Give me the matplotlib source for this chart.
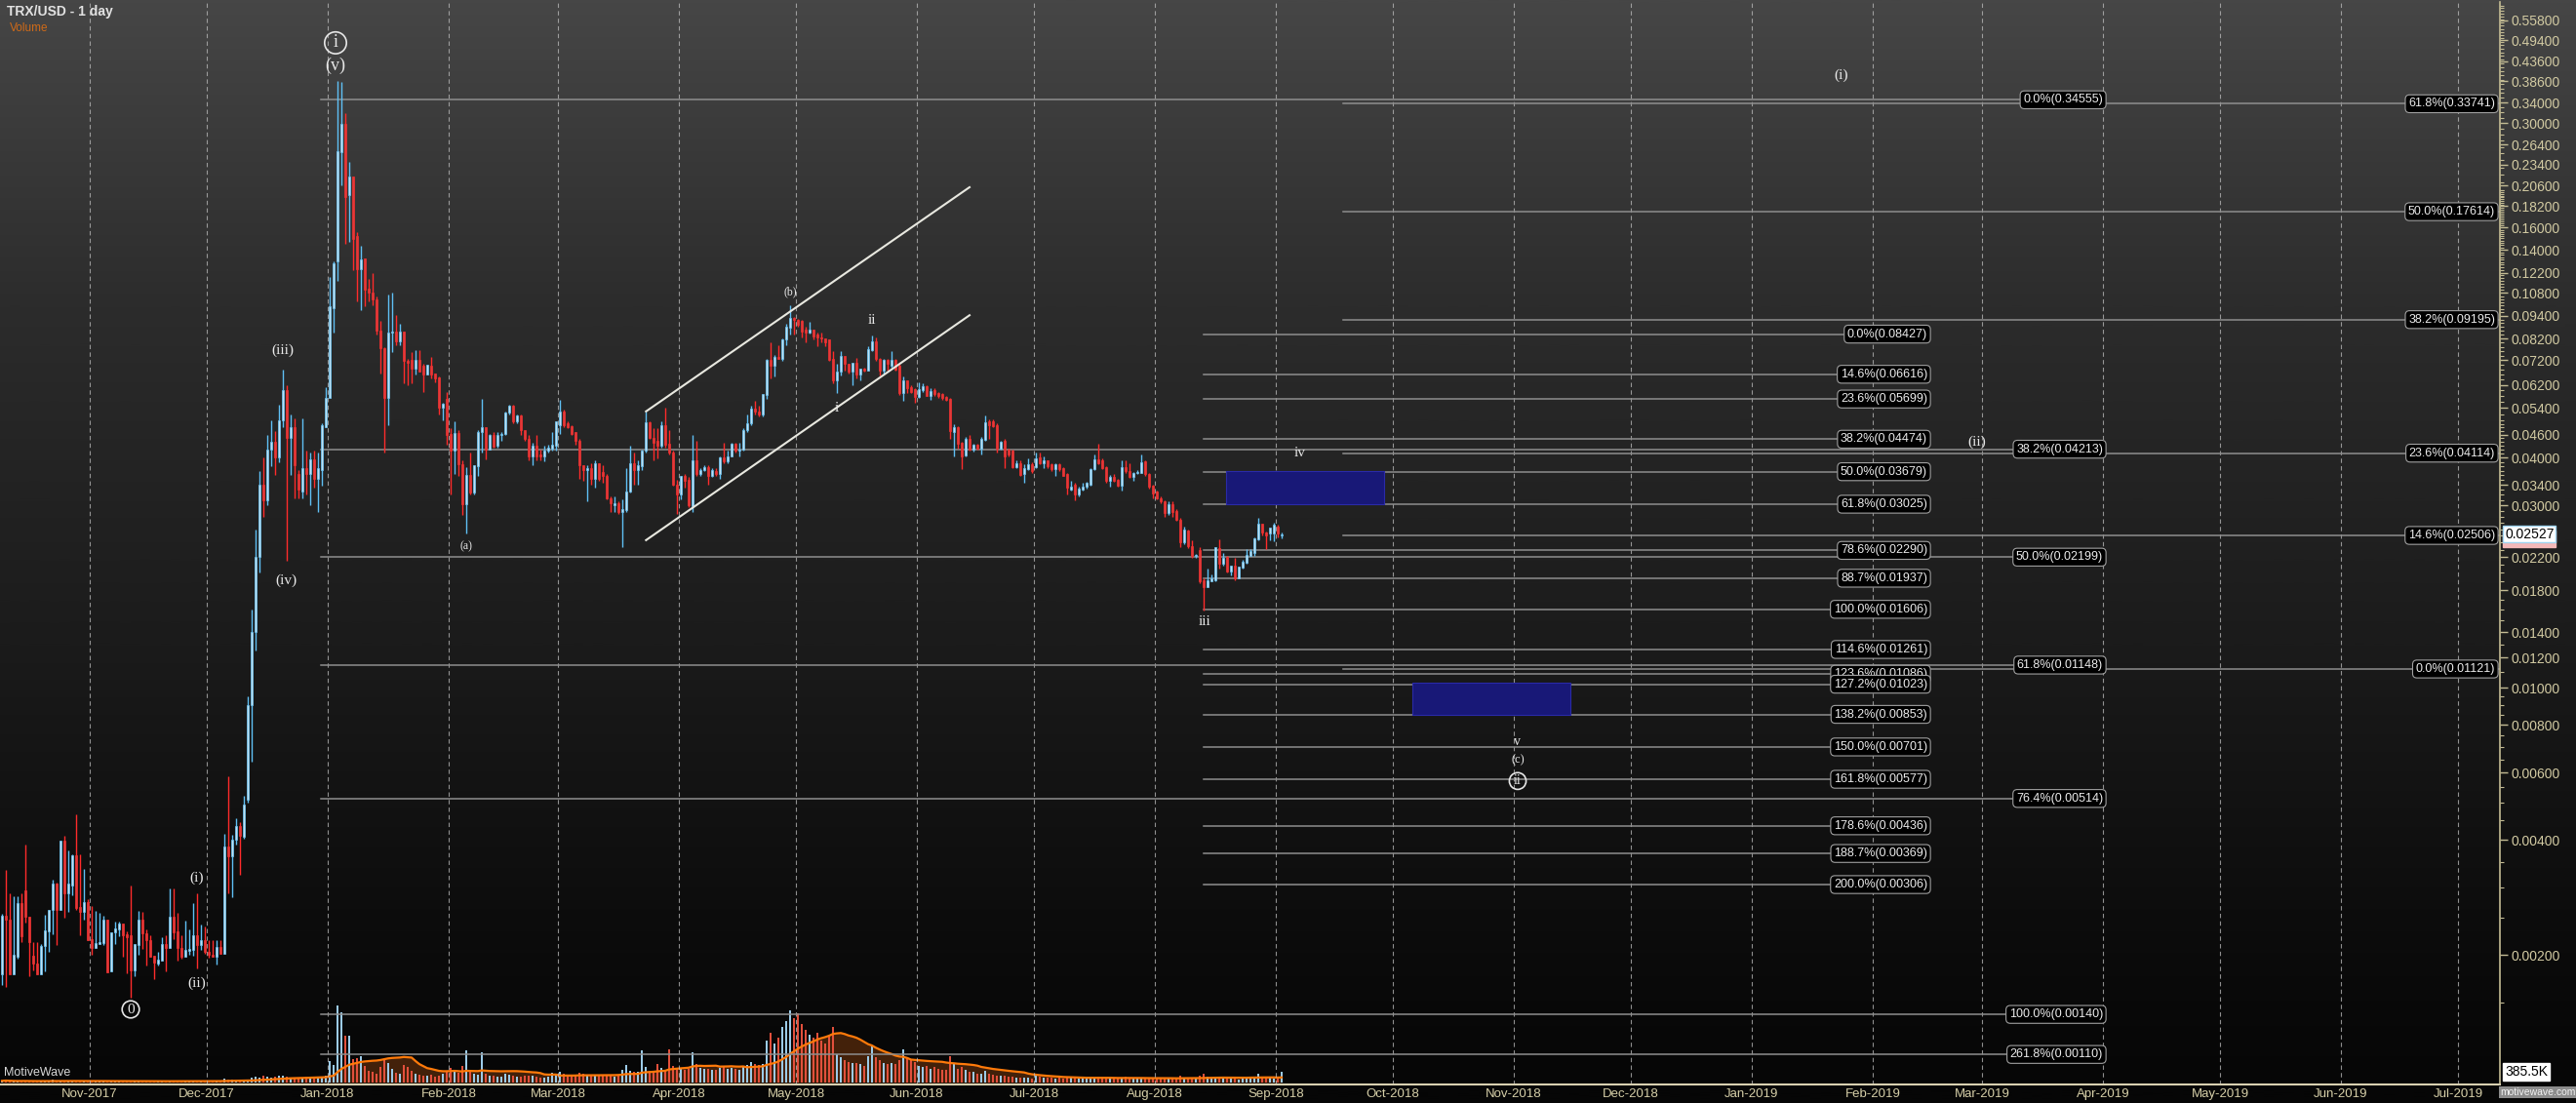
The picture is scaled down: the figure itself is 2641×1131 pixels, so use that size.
import numpy as np
import pandas as pd
import matplotlib
matplotlib.use('Agg')
import matplotlib.pyplot as plt
import matplotlib.dates as mdates
from matplotlib.colors import LinearSegmentedColormap
from matplotlib.ticker import FixedLocator, NullFormatter, FuncFormatter

# daily candles (open, high, low, close), one list per month
first_day = '2017-10-09'
ohlc_2017_10 = [
    (.00178, .00257, .00167, .00254), (.00254, .00334, .00165, .00248), (.00248, .00291, .00178, .00178),
    (.00178, .00286, .00178, .00200), (.00198, .00286, .00196, .00273), (.00273, .00290, .00216, .00224),
    (.00295, .00389, .00243, .00252), (.00252, .00252, .00176, .00216), (.00199, .00216, .00183, .00190),
    (.00190, .00216, .00178, .00178), (.00178, .00214, .00178, .00212), (.00211, .00255, .00181, .00232),
    (.00231, .00262, .00204, .00262), (.00262, .00315, .00227, .00307), (.00307, .00309, .00213, .00263),
    (.00263, .00398, .00263, .00398), (.00398, .00411, .00250, .00291), (.00291, .00375, .00259, .00307),
    (.00305, .00367, .00287, .00366), (.00366, .00468, .00262, .00266), (.00268, .00367, .00226, .00259),
    (.00259, .00336, .00248, .00276), (.00276, .00281, .00219, .00219),
]
ohlc_2017_11 = [
    (.00220, .00269, .00200, .00209), (.00209, .00261, .00209, .00215), (.00214, .00258, .00214, .00216),
    (.00215, .00254, .00213, .00247), (.00247, .00247, .00180, .00180), (.00181, .00230, .00181, .00230),
    (.00229, .00245, .00214, .00235), (.00234, .00245, .00224, .00242), (.00242, .00242, .00198, .00225),
    (.00227, .00231, .00179, .00223), (.00225, .00305, .00155, .00183), (.00183, .00214, .00176, .00214),
    (.00213, .00261, .00201, .00248), (.00248, .00260, .00208, .00228), (.00228, .00233, .00188, .00219),
    (.00219, .00225, .00198, .00198), (.00199, .00199, .00173, .00191), (.00190, .00204, .00188, .00195),
    (.00194, .00223, .00194, .00214), (.00214, .00225, .00181, .00209), (.00209, .00299, .00209, .00252),
    (.00252, .00299, .00220, .00230), (.00231, .00258, .00193, .00209), (.00209, .00225, .00196, .00198),
    (.00198, .00246, .00198, .00206), (.00205, .00234, .00200, .00208), (.00207, .00273, .00199, .00225),
    (.00225, .00291, .00185, .00213), (.00213, .00241, .00207, .00219), (.00219, .00238, .00202, .00204),
]
ohlc_2017_12 = [
    (.00204, .00219, .00197, .00200), (.00201, .00219, .00198, .00198), (.00198, .00219, .00189, .00210),
    (.00210, .00219, .00202, .00202), (.00202, .00415, .00202, .00384), (.00384, .00587, .00290, .00362),
    (.00362, .00412, .00283, .00401), (.00401, .00457, .00389, .00435), (.00435, .00445, .00324, .00410),
    (.00408, .00523, .00404, .00494), (.00509, .0095, .00500, .0090), (.0090, .0160, .0064, .0140),
    (.0140, .0260, .0125, .0220), (.0220, .0370, .0200, .0340), (.0340, .0400, .0280, .0310),
    (.0310, .0460, .0300, .0420), (.0420, .0500, .0380, .0440), (.0440, .0470, .0360, .0400),
    (.0400, .0550, .0390, .0500), (.0500, .0680, .0480, .0600), (.0600, .0620, .0215, .0450),
    (.0450, .0520, .0360, .0482), (.0482, .0507, .0314, .0383), (.0363, .0371, .0314, .0330),
    (.0327, .0507, .0314, .0375), (.0375, .0417, .0321, .0363), (.0363, .0413, .0301, .0397),
    (.0397, .0417, .0334, .0352), (.0352, .0413, .0289, .0375), (.0371, .0492, .0338, .0487),
    (.0482, .0613, .0482, .0575),
]
ohlc_2018_01 = [
    (.0575, .1187, .0575, .0995), (.0985, .1305, .0849, .1291), (.1305, .388, .1163, .2535),
    (.2525, .385, .2069, .2988), (.2988, .318, .145, .1923), (.1944, .2373, .1465, .2181),
    (.2181, .2181, .124, .1496), (.1521, .1554, .1026, .1243), (.1243, .1434, .0975, .1324),
    (.1332, .1332, .0995, .1103), (.1108, .1175, .1026, .1080), (.1080, .1217, .1005, .1036),
    (.1040, .1058, .0840, .0862), (.0862, .0914, .0666, .0776), (.0776, .0780, .0413, .0575),
    (.0575, .1069, .0487, .0853), (.0849, .1080, .0756, .0857), (.0855, .0943, .0790, .0806),
    (.0806, .0896, .0790, .0855), (.0855, .0858, .0625, .0718), (.0718, .0726, .0620, .0711),
    (.0723, .0756, .0625, .0684), (.0684, .0764, .0659, .0723), (.0723, .0764, .0673, .0673),
    (.0696, .0704, .0594, .0659), (.0659, .0699, .0659, .0699), (.0696, .0733, .0645, .0659),
    (.0665, .0666, .0632, .0645), (.0648, .0652, .0518, .0540), (.0540, .0558, .0502, .0555),
    (.0569, .0596, .0434, .0458),
]
ohlc_2018_02 = [
    (.0462, .0477, .0321, .0417), (.0417, .0497, .0363, .0464), (.0464, .0472, .0359, .0384),
    (.0384, .0395, .0283, .0303), (.0303, .0378, .0253, .0361), (.0361, .0413, .0321, .0324),
    (.0324, .0383, .0321, .0383), (.0380, .0472, .0359, .0467), (.0467, .0569, .0413, .0482),
    (.0482, .0482, .0397, .0421), (.0420, .0462, .0420, .0458), (.0460, .0467, .0426, .0428),
    (.0430, .0467, .0426, .0458), (.0458, .0467, .0443, .0462), (.0462, .0529, .0458, .0526),
    (.0524, .0552, .0518, .0546), (.0546, .0552, .0492, .0497), (.0497, .0518, .0492, .0516),
    (.0516, .0518, .0458, .0472), (.0472, .0472, .0443, .0448), (.0448, .0458, .0395, .0404),
    (.0404, .0439, .0383, .0430), (.0430, .0458, .0395, .0404), (.0407, .0421, .0395, .0404),
    (.0404, .0430, .0391, .0417), (.0417, .0434, .0414, .0426), (.0423, .0467, .0417, .0434),
    (.0430, .0497, .0417, .0497),
]
ohlc_2018_03 = [
    (.0487, .0567, .0462, .0529), (.0529, .0535, .0482, .0487), (.0492, .0497, .0477, .0482),
    (.0483, .0487, .0458, .0462), (.0467, .0467, .0434, .0443), (.0443, .0448, .0352, .0383),
    (.0383, .0383, .0348, .0371), (.0371, .0383, .0308, .0375), (.0375, .0387, .0341, .0352),
    (.0352, .0395, .0334, .0387), (.0387, .0387, .0348, .0352), (.0367, .0383, .0345, .0359),
    (.0359, .0363, .0311, .0314), (.0314, .0317, .0289, .0304), (.0301, .0317, .0289, .0304),
    (.0304, .0308, .0286, .0289), (.0289, .0311, .0234, .0293), (.0292, .0375, .0289, .0327),
    (.0327, .0430, .0324, .0387), (.0387, .0413, .0341, .0371), (.0371, .0395, .0341, .0383),
    (.0380, .0421, .0371, .0419), (.0417, .0529, .0413, .0494), (.0494, .0497, .0448, .0452),
    (.0452, .0477, .0395, .0439), (.0443, .0477, .0399, .0430), (.0430, .0497, .0426, .0487),
    (.0487, .0540, .0426, .0434), (.0436, .0472, .0407, .0413), (.0414, .0417, .0338, .0341),
    (.0341, .0351, .0286, .0321),
]
ohlc_2018_04 = [
    (.0321, .0358, .0311, .0358), (.0359, .0363, .0334, .0348), (.0351, .0356, .0297, .0301),
    (.0299, .0458, .0289, .0393), (.0393, .0443, .0359, .0363), (.0363, .0375, .0359, .0371),
    (.0371, .0383, .0369, .0378), (.0378, .0383, .0341, .0359), (.0359, .0375, .0356, .0371),
    (.0369, .0375, .0359, .0363), (.0363, .0404, .0352, .0401), (.0401, .0439, .0387, .0391),
    (.0391, .0417, .0387, .0404), (.0404, .0439, .0404, .0436), (.0436, .0439, .0414, .0417),
    (.0417, .0439, .0404, .0421), (.0421, .0477, .0417, .0474), (.0472, .0518, .0467, .0492),
    (.0492, .0546, .0487, .0537), (.0537, .0563, .0518, .0529), (.0529, .0546, .0513, .0518),
    (.0518, .0587, .0513, .0587), (.0583, .0726, .0569, .0721), (.0721, .0801, .0645, .0696),
    (.0696, .0741, .0652, .0736), (.0736, .0790, .0726, .0726), (.0726, .0823, .0718, .0818),
    (.0815, .0896, .0790, .0881), (.0877, .1005, .0840, .0930), (.0930, .0933, .0840, .0918),
]
ohlc_2018_05 = [
    (.0918, .0926, .0882, .0890), (.0912, .0918, .0824, .0857), (.0868, .0882, .0800, .0850),
    (.0850, .0908, .0845, .0868), (.0868, .0868, .0816, .0829), (.0840, .0850, .0784, .0824),
    (.0824, .0852, .0800, .0820), (.0820, .0820, .0784, .0800), (.0816, .0816, .0718, .0722),
    (.0725, .0761, .0626, .0638), (.0638, .0705, .0590, .0671), (.0671, .0761, .0658, .0739),
    (.0739, .0739, .0677, .0703), (.0703, .0703, .0664, .0671), (.0671, .0707, .0620, .0707),
    (.0707, .0729, .0645, .0660), (.0660, .0685, .0638, .0685), (.0685, .0689, .0673, .0677),
    (.0677, .0784, .0677, .0769), (.0765, .0838, .0761, .0808), (.0808, .0824, .0718, .0725),
    (.0725, .0729, .0658, .0677), (.0677, .0725, .0664, .0720), (.0720, .0725, .0677, .0703),
    (.0696, .0761, .0689, .0720), (.0720, .0725, .0677, .0682), (.0696, .0703, .0585, .0590),
    (.0590, .0654, .0563, .0638), (.0638, .0638, .0590, .0608), (.0611, .0620, .0590, .0596),
    (.0604, .0608, .0557, .0577),
]
ohlc_2018_06 = [
    (.0577, .0632, .0573, .0604), (.0602, .0626, .0596, .0616), (.0616, .0620, .0579, .0581),
    (.0581, .0608, .0566, .0599), (.0602, .0608, .0579, .0588), (.0590, .0596, .0573, .0581),
    (.0588, .0590, .0568, .0573), (.0576, .0579, .0563, .0568), (.0570, .0573, .0449, .0469),
    (.0466, .0490, .0403, .0480), (.0480, .0485, .0424, .0436), (.0438, .0440, .0373, .0403),
    (.0406, .0453, .0403, .0449), (.0449, .0458, .0417, .0420), (.0420, .0436, .0415, .0432),
    (.0432, .0436, .0420, .0424), (.0424, .0453, .0407, .0449), (.0447, .0515, .0444, .0495),
    (.0497, .0505, .0449, .0488), (.0497, .0503, .0480, .0485), (.0488, .0492, .0412, .0424),
    (.0424, .0444, .0420, .0440), (.0444, .0449, .0377, .0403), (.0420, .0424, .0403, .0407),
    (.0417, .0420, .0377, .0379), (.0379, .0393, .0375, .0387), (.0387, .0395, .0359, .0361),
    (.0362, .0384, .0344, .0375), (.0373, .0399, .0371, .0384), (.0384, .0390, .0366, .0369),
]
ohlc_2018_07 = [
    (.0378, .0412, .0377, .0399), (.0401, .0412, .0384, .0387), (.0387, .0403, .0377, .0393),
    (.0393, .0395, .0377, .0380), (.0384, .0387, .0369, .0373), (.0373, .0386, .0359, .0384),
    (.0384, .0387, .0369, .0373), (.0375, .0378, .0358, .0359), (.0362, .0366, .0320, .0335),
    (.0331, .0349, .0329, .0336), (.0341, .0344, .0310, .0320), (.0320, .0336, .0317, .0333),
    (.0331, .0344, .0329, .0337), (.0336, .0346, .0333, .0344), (.0341, .0377, .0339, .0374),
    (.0373, .0407, .0371, .0397), (.0397, .0436, .0384, .0387), (.0393, .0399, .0373, .0377),
    (.0378, .0381, .0344, .0348), (.0349, .0360, .0336, .0357), (.0357, .0362, .0346, .0349),
    (.0351, .0353, .0336, .0339), (.0339, .0395, .0329, .0378), (.0378, .0393, .0366, .0369),
    (.0369, .0387, .0354, .0356), (.0357, .0368, .0349, .0366), (.0364, .0371, .0362, .0368),
    (.0366, .0407, .0366, .0390), (.0391, .0393, .0359, .0362), (.0362, .0364, .0333, .0336),
    (.0339, .0341, .0314, .0323),
]
ohlc_2018_08 = [
    (.0326, .0329, .0312, .0314), (.0314, .0317, .0304, .0307), (.0307, .0310, .0281, .0287),
    (.0287, .0307, .0283, .0303), (.0303, .0307, .0281, .0288), (.0290, .0293, .0273, .0276),
    (.0276, .0279, .0233, .0240), (.0240, .0265, .0238, .0260), (.0258, .0260, .0232, .0235),
    (.0235, .0243, .0219, .0221), (.0222, .0224, .0219, .0222), (.0229, .0233, .0188, .0190),
    (.0191, .0193, .0159, .0184), (.0184, .0205, .0184, .0191), (.0190, .0198, .0190, .0193),
    (.0191, .0234, .0190, .0233), (.0232, .0245, .0205, .0212), (.0212, .0226, .0209, .0219),
    (.0220, .0222, .0201, .0202), (.0202, .0209, .0197, .0209), (.0209, .0219, .0191, .0193),
    (.0193, .0208, .0193, .0208), (.0207, .0217, .0205, .0214), (.0213, .0231, .0212, .0223),
    (.0222, .0231, .0221, .0228), (.0225, .0248, .0222, .0246), (.0245, .0279, .0243, .0269),
    (.0269, .0269, .0250, .0255), (.0255, .0257, .0231, .0250), (.0253, .0263, .0243, .0262),
    (.0254, .0270, .0242, .0268),
]
ohlc_2018_09 = [(.0265, .0268, .0247, .0254), (.0251, .0255, .0246, .02527)]

# daily volume, thousands
vol_2017_10 = [60, 80, 50, 40, 45, 70, 50, 40, 35, 45, 60, 75, 55, 90, 60, 50, 45, 40, 70, 55, 50, 45, 55]
vol_2017_11 = [50, 40, 35, 45, 60, 45, 40, 35, 50, 75, 45, 40, 35, 40, 45, 60, 50, 45, 40, 70,
               55, 45, 40, 50, 60, 55, 45, 50, 60, 55]
vol_2017_12 = [50, 45, 50, 55, 150, 120, 90, 80, 70, 90, 120, 160, 200, 175, 230, 200, 175, 200, 260, 235,
               210, 180, 150, 175, 160, 200, 140, 175, 190, 180, 240]
vol_2018_01 = [770, 640, 2765, 2520, 1690, 1690, 840, 875, 955, 600, 420, 380, 330, 560, 800, 700, 500, 350,
               330, 620, 560, 420, 300, 280, 260, 250, 280, 200, 240, 330, 430]
vol_2018_02 = [520, 450, 350, 600, 1150, 380, 300, 280, 1100, 320, 250, 230, 220, 200, 300, 280, 250, 220,
               200, 240, 260, 230, 200, 180, 190, 220, 350, 300]
vol_2018_03 = [400, 300, 250, 230, 240, 350, 300, 260, 250, 280, 240, 230, 270, 250, 220, 280, 450, 620,
               420, 380, 400, 1150, 550, 420, 400, 680, 520, 450, 1200, 580, 500]
vol_2018_04 = [480, 460, 500, 1100, 680, 530, 480, 500, 460, 440, 520, 580, 500, 520, 480, 460, 580, 620,
               720, 680, 620, 680, 1500, 1800, 1400, 1600, 2000, 2200, 2600, 2300]
vol_2018_05 = [2500, 2100, 1900, 1700, 1600, 1800, 1500, 1400, 1700, 2000, 1000, 900, 800, 750, 700, 700,
               650, 600, 950, 1300, 900, 800, 700, 650, 700, 650, 800, 1200, 900, 800, 750]
vol_2018_06 = [600, 550, 600, 500, 550, 500, 450, 450, 950, 700, 500, 550, 450, 400, 380, 330, 300, 420,
               300, 280, 250, 230, 250, 210, 200, 190, 180, 170, 160, 150]
vol_2018_07 = [230, 200, 180, 170, 160, 150, 160, 150, 200, 170, 160, 150, 140, 150, 170, 180, 200, 170,
               160, 150, 140, 150, 160, 200, 170, 150, 140, 130, 140, 150, 160]
vol_2018_08 = [150, 140, 160, 140, 130, 140, 230, 180, 160, 150, 130, 250, 300, 200, 180, 220, 200, 160,
               150, 140, 130, 120, 130, 150, 160, 220, 300, 200, 180, 160, 150]
vol_2018_09 = [140, 385.5]

# fibonacci levels: (percent, price)
fib_wave_i = [('61.8%', 0.33741), ('50.0%', 0.17614), ('38.2%', 0.09195), ('23.6%', 0.04114),
              ('14.6%', 0.02506), ('0.0%', 0.01121)]
fib_wave_ii = [('0.0%', 0.34555), ('38.2%', 0.04213), ('50.0%', 0.02199), ('61.8%', 0.01148),
               ('76.4%', 0.00514), ('100.0%', 0.00140), ('261.8%', 0.00110)]
fib_wave_iii = [('0.0%', 0.08427), ('14.6%', 0.06616), ('23.6%', 0.05699), ('38.2%', 0.04474),
                ('50.0%', 0.03679), ('61.8%', 0.03025), ('78.6%', 0.02290), ('88.7%', 0.01937),
                ('100.0%', 0.01606), ('114.6%', 0.01261), ('123.6%', 0.01086), ('127.2%', 0.01023),
                ('138.2%', 0.00853), ('150.0%', 0.00701), ('161.8%', 0.00577), ('178.6%', 0.00436),
                ('188.7%', 0.00369), ('200.0%', 0.00306)]
fib_spans = {  # line start, label end
    'i': ('2018-09-18 06:00', '2019-07-10 12:00'),
    'ii': ('2017-12-30 06:00', '2019-04-01 00:00'),
    'iii': ('2018-08-13 12:00', '2019-02-15 00:00'),
}

# elliott wave labels: (date, price, text, size, circled)
wave_labels = [
    ('2018-01-03', 0.487, 'i', 13, True), ('2018-01-03', 0.4253, '(v)', 13, False),
    ('2017-12-20 12:00', 0.0766, '(iii)', 11, False), ('2017-12-21 06:00', 0.01914, '(iv)', 11, False),
    ('2017-11-28 12:00', 0.00319, '(i)', 11, False), ('2017-11-28 12:00', 0.00169, '(ii)', 11, False),
    ('2017-11-11 12:00', 0.001443, '0', 11, True),
    ('2018-02-05 12:00', 0.0235, '(a)', 8.5, False), ('2018-04-29 12:00', 0.1089, '(b)', 8.5, False),
    ('2018-05-11 12:00', 0.0541, 'i', 11, False), ('2018-05-20 12:00', 0.0918, 'ii', 11, False),
    ('2018-08-13 18:00', 0.01487, 'iii', 11, False), ('2018-09-07 06:00', 0.0411, 'iv', 11, False),
    ('2018-11-02', 0.00722, 'v', 10, False), ('2018-11-02', 0.00648, '(c)', 9, False),
    ('2018-11-02', 0.00571, 'ii', 10, True),
    ('2019-01-24', 0.4012, '(i)', 11, False), ('2019-02-27 18:00', 0.04405, '(ii)', 11, False),
]

channel_upper = [('2018-03-23 14:00', 0.0529), ('2018-06-14 12:00', 0.2041)]
channel_lower = [('2018-03-23 14:00', 0.02436), ('2018-06-14 12:00', 0.0944)]

target_boxes = [('2018-08-19 06:00', '2018-09-28 18:00', 0.03025, 0.0370),
                ('2018-10-06', '2018-11-15 12:00', 0.00853, 0.0103)]

price_ticks = [0.558, 0.494, 0.436, 0.386, 0.34, 0.30, 0.264, 0.234, 0.206, 0.182, 0.16, 0.14, 0.122,
               0.108, 0.094, 0.082, 0.072, 0.062, 0.054, 0.046, 0.04, 0.034, 0.03, 0.022, 0.018, 0.014,
               0.012, 0.01, 0.008, 0.006, 0.004, 0.002]
last_price = 0.02527
last_volume = '385.5K'

# ---------------------------------------------------------------------------
W, H = 2641, 1131
fig = plt.figure(figsize=(W / 100, H / 100), dpi=100, facecolor='black')

sans = ['Liberation Sans', 'DejaVu Sans']
serif = ['Liberation Serif', 'DejaVu Serif']

# background gradient over the whole picture
bg = fig.add_axes([0, 0, 1, 1], zorder=0)
cmap = LinearSegmentedColormap.from_list('bg', ['#060606', '#1b1b1b', '#2c2c2c', '#464646'])
grad = np.linspace(0, 1, 512)[:, None] ** 1.25
bg.imshow(grad, cmap=cmap, aspect='auto', origin='lower', extent=[0, 1, 0, 1])
bg.axis('off')

ax_left, ax_right = 0.0, 2563 / W
ax_bot, ax_top = (H - 1112) / H, (H - 2) / H
ax = fig.add_axes([ax_left, ax_bot, ax_right - ax_left, ax_top - ax_bot], zorder=2)
ax.set_facecolor('none')
ax.set_yscale('log')

rows = (ohlc_2017_10 + ohlc_2017_11 + ohlc_2017_12 + ohlc_2018_01 + ohlc_2018_02 + ohlc_2018_03 +
        ohlc_2018_04 + ohlc_2018_05 + ohlc_2018_06 + ohlc_2018_07 + ohlc_2018_08 + ohlc_2018_09)
df = pd.DataFrame(rows, columns=['open', 'high', 'low', 'close'])
df['date'] = pd.date_range(first_day, periods=len(df), freq='D')
df['volume'] = (vol_2017_10 + vol_2017_11 + vol_2017_12 + vol_2018_01 + vol_2018_02 + vol_2018_03 +
                vol_2018_04 + vol_2018_05 + vol_2018_06 + vol_2018_07 + vol_2018_08 + vol_2018_09)
x = mdates.date2num(df['date']) + 0.5
up = (df['close'] >= df['open']).values

xmin = mdates.date2num(pd.Timestamp('2017-10-09'))
xmax = mdates.date2num(pd.Timestamp('2019-07-11 18:00'))
ymin, ymax = 0.000918, 0.623

# month grid
months = pd.date_range('2017-11-01', '2019-07-01', freq='MS')
for m in months:
    ax.axvline(mdates.date2num(m), color='#bdbdbd', lw=0.8, ls=(0, (4, 3)), alpha=0.75, zorder=1)

# candles
body_lo = np.minimum(df['open'], df['close']).values
body_hi = np.maximum(df['open'], df['close']).values
body_hi = np.maximum(body_hi, body_lo * 1.006)
ax.vlines(x[up], df['low'][up], df['high'][up], color='#5fc0f5', lw=1.0, zorder=4)
ax.vlines(x[~up], df['low'][~up], df['high'][~up], color='#ff2b2b', lw=1.0, zorder=4)
ax.bar(x[up], body_hi[up] - body_lo[up], bottom=body_lo[up], width=0.72,
       color='#bfe2f5', edgecolor='#6cc4f2', lw=0.5, zorder=5)
ax.bar(x[~up], body_hi[~up] - body_lo[~up], bottom=body_lo[~up], width=0.72,
       color='#e33a3a', edgecolor='#f23030', lw=0.5, zorder=5)

# channel
for pts in (channel_upper, channel_lower):
    ax.plot([mdates.date2num(pd.Timestamp(d)) for d, _ in pts], [p for _, p in pts],
            color='#e8e8e0', lw=1.5, zorder=6)

# target boxes
for d0, d1, p0, p1 in target_boxes:
    t0, t1 = mdates.date2num(pd.Timestamp(d0)), mdates.date2num(pd.Timestamp(d1))
    ax.fill_between([t0, t1], p0, p1, color='#181877', edgecolor='#2a2aa8', lw=0.8, zorder=3)


# fibonacci lines and labels
def fib_group(levels, span, to_edge=False):
    t0 = mdates.date2num(pd.Timestamp(span[0]))
    t1 = mdates.date2num(pd.Timestamp(span[1]))
    for pct, price in levels:
        end = xmax if to_edge else t1
        ax.plot([t0, end], [price, price], color='#8e8e8e', lw=1.1, zorder=2)
        ax.text(t1, price, f'{pct}({price:.5f})', ha='right', va='center', fontsize=9,
                family=sans, color='#ececec', zorder=8,
                bbox=dict(boxstyle='round,pad=0.25,rounding_size=0.35', fc='black', ec='#a0a0a0', lw=0.8))


fib_group(fib_wave_i, fib_spans['i'], to_edge=True)
fib_group(fib_wave_ii, fib_spans['ii'])
fib_group(fib_wave_iii, fib_spans['iii'])

# wave labels
for d, p, txt, size, circled in wave_labels:
    kw = {}
    if circled:
        kw['bbox'] = dict(boxstyle='circle,pad=0.15', fc='none', ec='#e6e6e6', lw=1.2)
    ax.text(mdates.date2num(pd.Timestamp(d)), p, txt, ha='center', va='center', fontsize=size,
            family=serif, color='#e8e8e8', zorder=9, **kw)

ax.set_xlim(xmin, xmax)
ax.set_ylim(ymin, ymax)

# axes styling
for s in ('top', 'left'):
    ax.spines[s].set_visible(False)
ax.spines['right'].set_color('#c4bc94')
ax.spines['right'].set_linewidth(1.2)
ax.spines['bottom'].set_color('#d8d0b0')
ax.spines['bottom'].set_linewidth(1.5)

ax.yaxis.tick_right()
ax.yaxis.set_major_locator(FixedLocator(price_ticks))
ax.yaxis.set_major_formatter(FuncFormatter(lambda v, _: f'{v:.5f}'))
minor = np.concatenate([np.arange(0.0015, 0.01, 0.0005), np.arange(0.01, 0.05, 0.001),
                        np.arange(0.05, 0.2, 0.002), np.arange(0.2, 0.62, 0.01)])
ax.yaxis.set_minor_locator(FixedLocator(minor))
ax.yaxis.set_minor_formatter(NullFormatter())
ax.tick_params(axis='y', which='major', length=6, width=1, color='#c4bc94', pad=2,
               labelcolor='#d3cba3', labelsize=10)
ax.tick_params(axis='y', which='minor', length=3, width=0.8, color='#c4bc94')
for lab in ax.get_yticklabels():
    lab.set_family(sans)

ax.xaxis.set_major_locator(FixedLocator(mdates.date2num(months)))
ax.xaxis.set_major_formatter(mdates.DateFormatter('%b-%Y'))
ax.tick_params(axis='x', length=0, pad=3, labelcolor='#d6cfa8', labelsize=9.5)
for lab in ax.get_xticklabels():
    lab.set_family(sans)

# current price tags
ax.text(1.002, 0.02455, '0.02416', transform=ax.get_yaxis_transform(), ha='left', va='center',
        fontsize=10, family=sans, color='#d04040', zorder=9,
        bbox=dict(boxstyle='square,pad=0.12', fc='#f4b8b8', ec='#f4b8b8'), clip_on=False)
ax.text(1.002, last_price, f'{last_price:.5f}', transform=ax.get_yaxis_transform(), ha='left',
        va='center', fontsize=10, family=sans, color='black', zorder=10,
        bbox=dict(boxstyle='square,pad=0.12', fc='white', ec='#9fd4f0', lw=1), clip_on=False)

# volume overlay
vax = fig.add_axes([ax_left, (H - 1110) / H, ax_right - ax_left, 100 / H], zorder=1)
vax.set_facecolor('none')
vol_ma = df['volume'].rolling(20, min_periods=1).mean()
vax.fill_between(x, 0, vol_ma, color='#43210a', lw=0, zorder=1)
vax.bar(x[up], df['volume'][up], width=0.72, color='#9ccbe8', zorder=2)
vax.bar(x[~up], df['volume'][~up], width=0.72, color='#e2503c', zorder=2)
vax.plot(x, vol_ma, color='#ff7a0a', lw=1.6, zorder=3)
vax.set_xlim(xmin, xmax)
vax.set_ylim(0, 3500)
vax.axis('off')
vax.text(1.002, df['volume'].iloc[-1], last_volume, transform=vax.get_yaxis_transform(),
         ha='left', va='center', fontsize=10, family=sans, color='black', clip_on=False,
         bbox=dict(boxstyle='square,pad=0.12', fc='white', ec='white'))

# captions
fig.text(7 / W, 1 - 12 / H, 'TRX/USD - 1 day', ha='left', va='center', fontsize=10,
         fontweight='bold', family=sans, color='#e2e2e2', zorder=10)
fig.text(10 / W, 1 - 29 / H, 'Volume', ha='left', va='center', fontsize=8.5,
         family=sans, color='#cf6a18', zorder=10)
fig.text(4 / W, 1 - 1100 / H, 'MotiveWave', ha='left', va='center', fontsize=9,
         family=sans, color='#d8d8d8', zorder=10)
fig.text(2602 / W, 1 - 1120 / H, 'motivewave.com', ha='center', va='center', fontsize=7.5,
         family=sans, color='#f2f2f2', zorder=10,
         bbox=dict(boxstyle='square,pad=0.1', fc='#8c8c8c', ec='none'))

fig.savefig('out.png', dpi=100, facecolor='black')
